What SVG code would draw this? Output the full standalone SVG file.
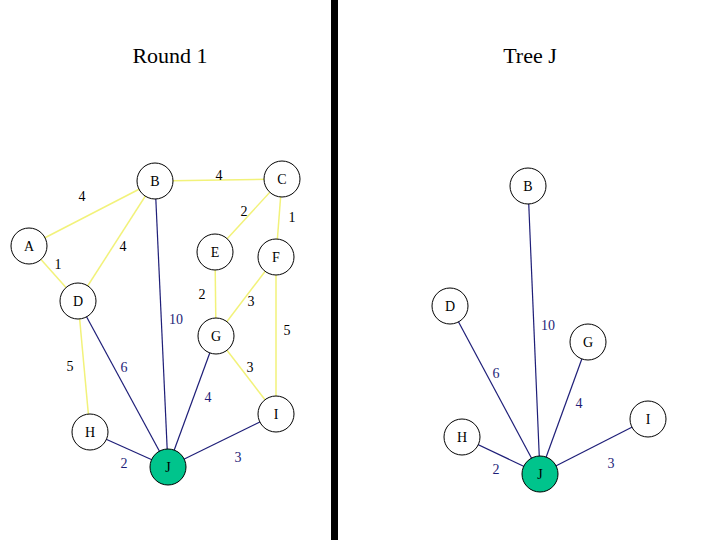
<svg xmlns="http://www.w3.org/2000/svg" width="720" height="540" viewBox="0 0 720 540">
<style>
text{font-family:"Liberation Serif","Times New Roman",serif;}
.title{font-size:22px;fill:#000;text-anchor:middle;}
.node circle{fill:#fff;stroke:#000;stroke-width:1;}
.node.j circle{fill:#00c48c;}
.node text{font-size:14px;text-anchor:middle;dominant-baseline:central;fill:#000;}
.y{stroke:#f2f27a;stroke-width:1.5;fill:none;}
.b{stroke:#1e1e78;stroke-width:1.2;fill:none;}
.lk{font-size:14px;fill:#000;text-anchor:middle;dominant-baseline:central;}
.lb{font-size:14px;fill:#1e1e78;text-anchor:middle;dominant-baseline:central;}
</style>
<rect width="720" height="540" fill="#fff"/>
<rect x="331" y="0" width="7" height="540" fill="#000"/>
<text class="title" x="170" y="63">Round 1</text>
<text class="title" x="530" y="63">Tree J</text>
<g id="connectors">
<line class="y" x1="29" y1="246" x2="155" y2="181"/>
<line class="y" x1="155" y1="181" x2="282" y2="179"/>
<line class="y" x1="282" y1="179" x2="215" y2="252"/>
<line class="y" x1="282" y1="179" x2="276" y2="257"/>
<line class="y" x1="155" y1="181" x2="78" y2="301"/>
<line class="y" x1="29" y1="246" x2="78" y2="301"/>
<line class="y" x1="215" y1="252" x2="216" y2="336"/>
<line class="y" x1="276" y1="257" x2="216" y2="336"/>
<line class="y" x1="276" y1="257" x2="276" y2="414"/>
<line class="y" x1="78" y1="301" x2="90" y2="432"/>
<line class="y" x1="216" y1="336" x2="276" y2="414"/>
<line class="b" x1="155" y1="181" x2="168" y2="467"/>
<line class="b" x1="78" y1="301" x2="168" y2="467"/>
<line class="b" x1="216" y1="336" x2="168" y2="467"/>
<line class="b" x1="90" y1="432" x2="168" y2="467"/>
<line class="b" x1="276" y1="414" x2="168" y2="467"/>
<line class="b" x1="528" y1="186" x2="540" y2="474"/>
<line class="b" x1="450" y1="306" x2="540" y2="474"/>
<line class="b" x1="588" y1="342" x2="540" y2="474"/>
<line class="b" x1="462" y1="437" x2="540" y2="474"/>
<line class="b" x1="648" y1="419" x2="540" y2="474"/>
<text class="lk" x="82" y="196">4</text>
<text class="lk" x="219" y="175">4</text>
<text class="lk" x="244" y="211">2</text>
<text class="lk" x="292" y="217">1</text>
<text class="lk" x="123" y="246">4</text>
<text class="lk" x="58" y="264">1</text>
<text class="lk" x="202" y="294">2</text>
<text class="lk" x="251" y="301">3</text>
<text class="lk" x="287" y="330">5</text>
<text class="lk" x="70" y="366">5</text>
<text class="lk" x="250" y="367">3</text>
<text class="lb" x="176" y="319">10</text>
<text class="lb" x="124" y="367">6</text>
<text class="lb" x="208" y="397">4</text>
<text class="lb" x="124" y="463">2</text>
<text class="lb" x="238" y="457">3</text>
<text class="lb" x="548" y="325">10</text>
<text class="lb" x="496" y="373">6</text>
<text class="lb" x="579" y="403">4</text>
<text class="lb" x="496" y="469">2</text>
<text class="lb" x="611" y="463">3</text>
</g>
<g id="L-A" class="node"><circle cx="29" cy="246" r="18"/><text x="29" y="246">A</text></g>
<g id="L-B" class="node"><circle cx="155" cy="181" r="18"/><text x="155" y="181">B</text></g>
<g id="L-C" class="node"><circle cx="282" cy="179" r="18"/><text x="282" y="179">C</text></g>
<g id="L-D" class="node"><circle cx="78" cy="301" r="18"/><text x="78" y="301">D</text></g>
<g id="L-E" class="node"><circle cx="215" cy="252" r="18"/><text x="215" y="252">E</text></g>
<g id="L-F" class="node"><circle cx="276" cy="257" r="18"/><text x="276" y="257">F</text></g>
<g id="L-G" class="node"><circle cx="216" cy="336" r="18"/><text x="216" y="336">G</text></g>
<g id="L-H" class="node"><circle cx="90" cy="432" r="18"/><text x="90" y="432">H</text></g>
<g id="L-I" class="node"><circle cx="276" cy="414" r="18"/><text x="276" y="414">I</text></g>
<g id="L-J" class="node j"><circle cx="168" cy="467" r="18"/><text x="168" y="467">J</text></g>
<g id="R-B" class="node"><circle cx="528" cy="186" r="18"/><text x="528" y="186">B</text></g>
<g id="R-D" class="node"><circle cx="450" cy="306" r="18"/><text x="450" y="306">D</text></g>
<g id="R-G" class="node"><circle cx="588" cy="342" r="18"/><text x="588" y="342">G</text></g>
<g id="R-H" class="node"><circle cx="462" cy="437" r="18"/><text x="462" y="437">H</text></g>
<g id="R-I" class="node"><circle cx="648" cy="419" r="18"/><text x="648" y="419">I</text></g>
<g id="R-J" class="node j"><circle cx="540" cy="474" r="18"/><text x="540" y="474">J</text></g>
</svg>
